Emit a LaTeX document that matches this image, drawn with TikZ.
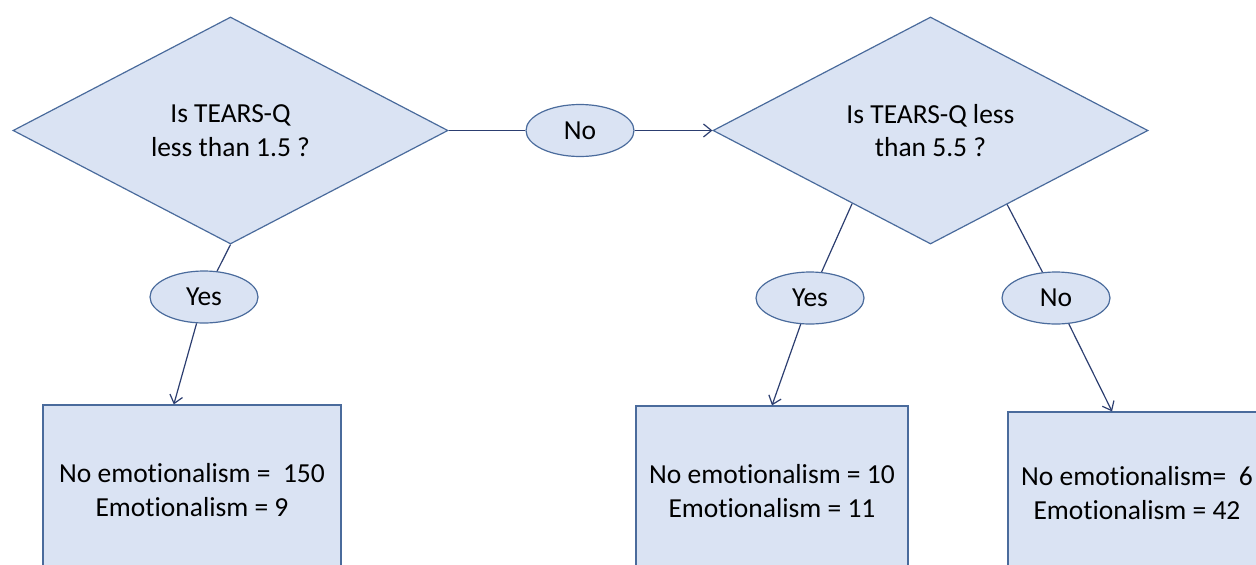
\documentclass[tikz,border=0pt]{standalone}
\usepackage{fontspec}
\setmainfont{Carlito}[Ligatures=NoCommon]
\usetikzlibrary{shapes.geometric,arrows.meta}
\definecolor{boxfill}{HTML}{DAE3F3}
\definecolor{boxline}{HTML}{4A6B9C}
\definecolor{conn}{HTML}{2C3E70}
\begin{document}
\begin{tikzpicture}[x=1pt,y=-1pt,
  font=\fontsize{27.5}{33.5}\selectfont,
  shapebase/.style={fill=boxfill,draw=boxline,line width=1.2pt,inner sep=0pt,text=black},
  decision/.style={shapebase,diamond,minimum width=435pt,minimum height=227pt,aspect=1.92,align=center},
  answer/.style={shapebase,ellipse,minimum width=108pt,minimum height=52pt},
  leaf/.style={shapebase,rectangle,align=center},
  link/.style={draw=conn,line width=1.2pt},
  arrowlink/.style={link,-{Straight Barb[length=8pt,width=13pt]}}]
\useasboundingbox (0,0) rectangle (1256,565);
\clip (0,0) rectangle (1256,565);
% decisions
\node[decision] (d1) at (230.5,130.5) {Is TEARS-Q\\less than 1.5 ?};
\node[decision] (d2) at (930.5,130.5) {Is TEARS-Q less\\than 5.5 ?};
% answers
\node[answer] (n1) at (580,130.5) {No};
\node[answer] (y1) at (204,297) {Yes};
\node[answer] (y2) at (810,298) {Yes};
\node[answer] (n2) at (1056,298) {No};
% leaves
\node[leaf,minimum width=298pt,minimum height=170pt] (b1) at (192,490) {No emotionalism =\ \ 150\\Emotionalism = 9};
\node[leaf,minimum width=272pt,minimum height=170pt] (b2) at (772,491) {No emotionalism = 10\\Emotionalism = 11};
\node[leaf,minimum width=258pt,minimum height=162pt] (b3) at (1137,493) {No emotionalism=\ \ 6\\Emotionalism = 42};
% connectors
\draw[link] (d1.east) -- (n1.west);
\draw[arrowlink] (n1.east) -- (d2.west);
\draw[link] (d1.south) -- (y1);
\draw[arrowlink] (y1) -- (b1.102);
\draw[link] (d2.223) -- (y2);
\draw[arrowlink] (y2) -- (b2.north);
\draw[link] (d2.316) -- (n2);
\draw[arrowlink] (n2) -- (b3.107);
\end{tikzpicture}
\end{document}
